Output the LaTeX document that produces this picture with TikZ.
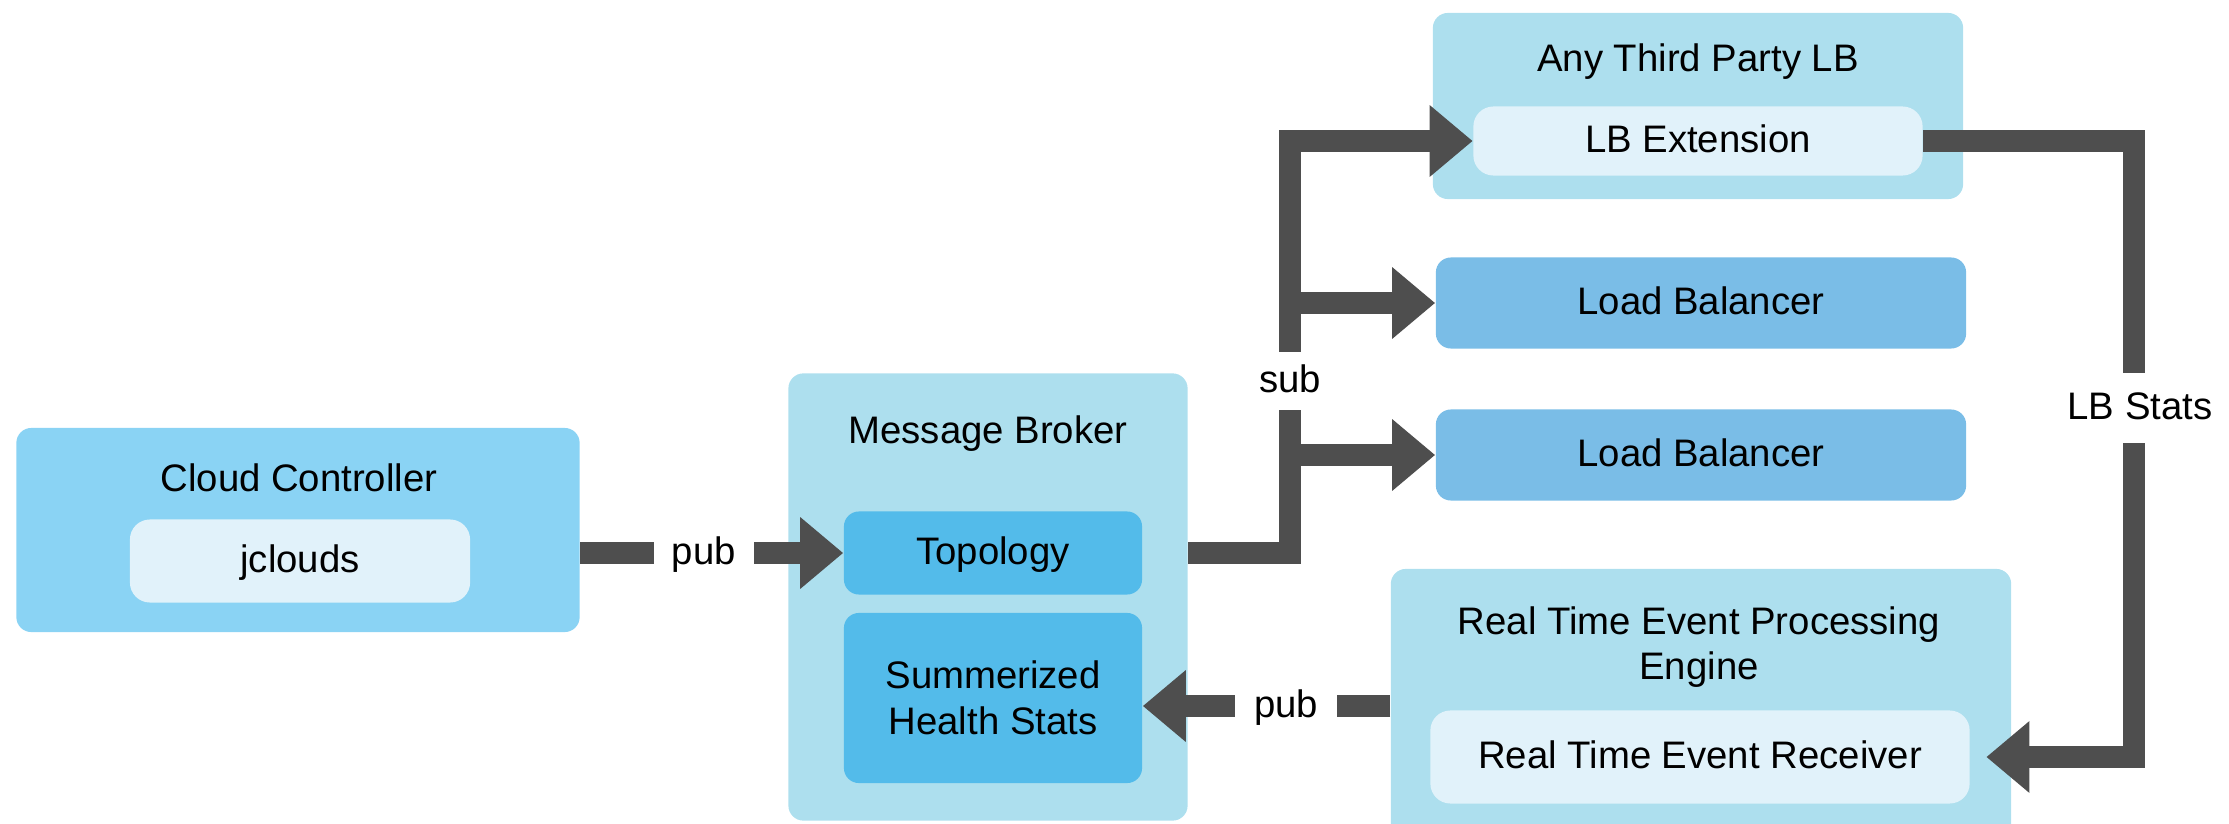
\documentclass[tikz,border=0pt]{standalone}
\usepackage{fontspec}
\setmainfont{Liberation Sans}
\usetikzlibrary{arrows.meta}
\definecolor{ccblue}{RGB}{138,211,244}
\definecolor{outerblue}{RGB}{173,223,238}
\definecolor{innerblue}{RGB}{225,242,250}
\definecolor{topoblue}{RGB}{83,187,234}
\definecolor{lbblue}{RGB}{122,189,231}
\definecolor{pipegray}{RGB}{78,78,78}
\begin{document}
\begin{tikzpicture}[x=0.01cm,y=-0.01cm,
    font=\fontsize{10.9}{13}\selectfont,
    blk/.style={rounded corners=0.15cm,inner sep=0pt},
    one/.style={text height=0.3cm,text depth=0.08cm},
    pipe/.style={draw=pipegray,line width=0.22cm,-{Triangle[length=0.43cm,width=0.69cm]}},
    gap/.style={fill=white,inner sep=0pt}]
  \path[use as bounding box,clip] (0,0) rectangle (2229,824);
  % outer boxes
  \node[blk,fill=ccblue,minimum width=5.63cm,minimum height=2.04cm] (cc) at (298,530) {};
  \node[blk,fill=outerblue,minimum width=3.99cm,minimum height=4.47cm] (mb) at (988,597) {};
  \node[blk,fill=outerblue,minimum width=5.30cm,minimum height=1.86cm] (atp) at (1698,106) {};
  \node[blk,fill=outerblue,minimum width=6.20cm,minimum height=3.00cm] (rtep) at (1701,719) {};
  % titles
  \node[one] (cctitle) at (299,480) {Cloud Controller};
  \node[one] (mbtitle) at (988,432) {Message Broker};
  \node[one] (atptitle) at (1698,60) {Any Third Party LB};
  \node[align=center] (rteptitle) at (1699,647) {Real Time Event Processing\\Engine};
  % inner boxes
  \node[blk,one,rounded corners=0.2cm,fill=innerblue,minimum width=3.40cm,minimum height=0.83cm] (jc) at (300,561) {jclouds};
  \node[blk,one,fill=topoblue,minimum width=2.98cm,minimum height=0.83cm] (topo) at (993,553) {Topology};
  \node[blk,align=center,fill=topoblue,minimum width=2.98cm,minimum height=1.70cm] (stats) at (993,698) {Summerized\\Health Stats};
  \node[blk,one,rounded corners=0.2cm,fill=innerblue,minimum width=4.49cm,minimum height=0.69cm] (lbext) at (1698,141) {LB Extension};
  \node[blk,one,fill=lbblue,minimum width=5.30cm,minimum height=0.91cm] (lb1) at (1701,303) {Load Balancer};
  \node[blk,one,fill=lbblue,minimum width=5.30cm,minimum height=0.91cm] (lb2) at (1701,455) {Load Balancer};
  \node[blk,one,rounded corners=0.2cm,fill=innerblue,minimum width=5.39cm,minimum height=0.93cm] (rter) at (1700,757) {Real Time Event Receiver};
  % connectors
  \coordinate (bus) at (1290,141);
  \coordinate (rail) at (2134,408);
  \draw[pipe] (cc.east |- topo) -- node[gap,one,pos=.47,minimum width=1cm] (pub1) {pub} (topo.west);
  \draw[pipe] ([yshift=-0.08cm]rtep.west |- stats.east) -- node[gap,one,pos=.42,minimum width=1.02cm] (pub2) {pub} ([yshift=-0.08cm]stats.east);
  \draw[pipe] (mb.east |- topo) -| (bus) -- (lbext.west);
  \draw[pipe] (bus |- lb1) -- (lb1.west);
  \draw[pipe] (bus |- lb2) -- (lb2.west);
  \draw[pipe,shorten >=0.16cm] (lbext.east) -| (rail) |- (rter.east);
  \node[gap,one,minimum height=0.57cm,minimum width=0.7cm] (sub) at (1290,381) {sub};
  \node[gap,one,minimum height=0.7cm] (lbstats) at (2140,408) {LB Stats};
\end{tikzpicture}
\end{document}
